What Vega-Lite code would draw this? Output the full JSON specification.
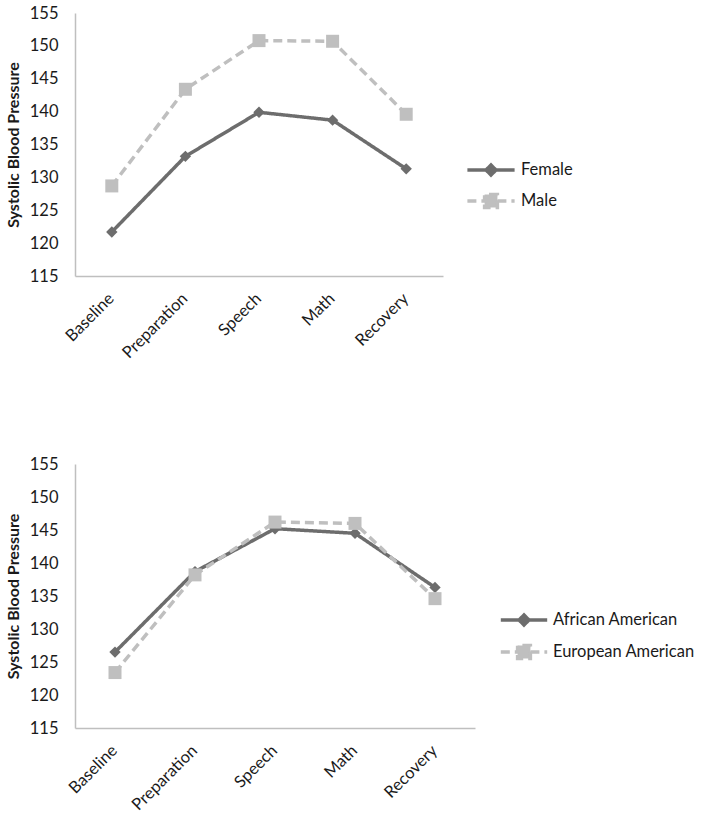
{
  "$schema": "https://vega.github.io/schema/vega-lite/v6.json",
  "background": "white",
  "padding": {"left": 5, "top": 5, "right": 5, "bottom": 5},
  "config": {
    "font": "Lato",
    "view": {"stroke": null},
    "concat": {"spacing": 94},
    "axis": {"labelFont": "Lato", "titleFont": "Lato", "labelColor": "#1a1a1a", "titleColor": "#1a1a1a", "domainColor": "#bfbfbf", "domainWidth": 1.5, "ticks": false, "grid": false},
    "legend": {"labelFont": "Lato", "labelFontSize": 16.5, "labelColor": "#1a1a1a", "padding": 0}
  },
  "resolve": {
    "scale": {"x": "independent", "color": "independent", "strokeDash": "independent"},
    "legend": {"color": "independent"}
  },
  "datasets": {
    "gender": [
      {"phase": "Baseline", "group": "Female", "sbp": 121.7},
      {"phase": "Preparation", "group": "Female", "sbp": 133.2},
      {"phase": "Speech", "group": "Female", "sbp": 139.9},
      {"phase": "Math", "group": "Female", "sbp": 138.7},
      {"phase": "Recovery", "group": "Female", "sbp": 131.3},
      {"phase": "Baseline", "group": "Male", "sbp": 128.7},
      {"phase": "Preparation", "group": "Male", "sbp": 143.4},
      {"phase": "Speech", "group": "Male", "sbp": 150.8},
      {"phase": "Math", "group": "Male", "sbp": 150.7},
      {"phase": "Recovery", "group": "Male", "sbp": 139.6}
    ],
    "race": [
      {"phase": "Baseline", "group": "African American", "sbp": 126.5},
      {"phase": "Preparation", "group": "African American", "sbp": 138.7},
      {"phase": "Speech", "group": "African American", "sbp": 145.2},
      {"phase": "Math", "group": "African American", "sbp": 144.5},
      {"phase": "Recovery", "group": "African American", "sbp": 136.3},
      {"phase": "Baseline", "group": "European American", "sbp": 123.4},
      {"phase": "Preparation", "group": "European American", "sbp": 138.2},
      {"phase": "Speech", "group": "European American", "sbp": 146.2},
      {"phase": "Math", "group": "European American", "sbp": 146.0},
      {"phase": "Recovery", "group": "European American", "sbp": 134.6}
    ]
  },
  "vconcat": [
    {
      "width": 368,
      "height": 263,
      "data": {"name": "gender"},
      "encoding": {
        "x": {"field": "phase", "type": "nominal", "sort": ["Baseline", "Preparation", "Speech", "Math", "Recovery"], "scale": {"type": "band", "paddingInner": 0, "paddingOuter": 0}, "axis": {"title": null, "labelAngle": -45, "labelFontSize": 16.5, "labelPadding": 14, "labelOffset": -6, "domain": true}},
        "y": {"field": "sbp", "type": "quantitative", "scale": {"domain": [115, 155], "nice": false, "zero": false}, "axis": {"title": "Systolic Blood Pressure", "titleFontSize": 16, "titleFontWeight": "bold", "titlePadding": 8, "labelFontSize": 16.5, "labelPadding": 17, "values": [115, 120, 125, 130, 135, 140, 145, 150, 155]}}
      },
      "layer": [
        {
          "mark": {"type": "line", "strokeWidth": 3.5, "strokeCap": "butt"},
          "encoding": {
            "color": {"field": "group", "type": "nominal", "scale": {"domain": ["Female", "Male"], "range": ["#6d6d6d", "#bfbfbf"]},
              "legend": {"title": null, "orient": "none", "legendX": 406, "legendY": 147, "symbolSize": 256, "symbolType": "circle", "rowPadding": 5, "labelOffset": 20,
                "encode": {"symbols": {"update": {
                  "shape": {"signal": "datum.value === 'Female' ? 'M-2.95,0L-0.62,0L0,-0.62L0.62,0L2.95,0M-0.62,0L0,0.62L0.62,0Z' : 'M-2.95,0L-0.8,0L-0.8,-0.8L0.8,-0.8L0.8,0.8L-0.8,0.8L-0.8,0M0.8,0L2.95,0'"},
                  "fill": {"signal": "datum.value === 'Female' ? '#6d6d6d' : '#bfbfbf'"},
                  "stroke": {"signal": "datum.value === 'Female' ? '#6d6d6d' : '#bfbfbf'"},
                  "strokeWidth": {"value": 3.5},
                  "opacity": {"value": 1},
                  "strokeDash": {"signal": "datum.value === 'Female' ? [] : [9,4]"}
                }}}}},
            "strokeDash": {"field": "group", "type": "nominal", "scale": {"domain": ["Female", "Male"], "range": [[1, 0], [9, 5]]}, "legend": null}
          }
        },
        {
          "transform": [{"filter": "datum.group === 'Female'"}],
          "mark": {"type": "point", "filled": true, "opacity": 1, "shape": "diamond", "size": 130, "color": "#6d6d6d"}
        },
        {
          "transform": [{"filter": "datum.group === 'Male'"}],
          "mark": {"type": "point", "filled": true, "opacity": 1, "shape": "square", "size": 169, "color": "#bfbfbf"}
        }
      ]
    },
    {
      "width": 400,
      "height": 264,
      "data": {"name": "race"},
      "encoding": {
        "x": {"field": "phase", "type": "nominal", "sort": ["Baseline", "Preparation", "Speech", "Math", "Recovery"], "scale": {"type": "band", "paddingInner": 0, "paddingOuter": 0}, "axis": {"title": null, "labelAngle": -45, "labelFontSize": 16.5, "labelPadding": 14, "labelOffset": -6, "domain": true}},
        "y": {"field": "sbp", "type": "quantitative", "scale": {"domain": [115, 155], "nice": false, "zero": false}, "axis": {"title": "Systolic Blood Pressure", "titleFontSize": 16, "titleFontWeight": "bold", "titlePadding": 8, "labelFontSize": 16.5, "labelPadding": 17, "values": [115, 120, 125, 130, 135, 140, 145, 150, 155]}}
      },
      "layer": [
        {
          "mark": {"type": "line", "strokeWidth": 3.5, "strokeCap": "butt"},
          "encoding": {
            "color": {"field": "group", "type": "nominal", "scale": {"domain": ["African American", "European American"], "range": ["#6d6d6d", "#bfbfbf"]},
              "legend": {"title": null, "orient": "none", "legendX": 439, "legendY": 146, "symbolSize": 256, "symbolType": "circle", "rowPadding": 6, "labelOffset": 19,
                "encode": {"symbols": {"update": {
                  "shape": {"signal": "datum.value === 'African American' ? 'M-2.9,0L-0.62,0L0,-0.62L0.62,0L2.9,0M-0.62,0L0,0.62L0.62,0Z' : 'M-2.9,0L-0.8,0L-0.8,-0.8L0.8,-0.8L0.8,0.8L-0.8,0.8L-0.8,0M0.8,0L2.9,0'"},
                  "fill": {"signal": "datum.value === 'African American' ? '#6d6d6d' : '#bfbfbf'"},
                  "stroke": {"signal": "datum.value === 'African American' ? '#6d6d6d' : '#bfbfbf'"},
                  "strokeWidth": {"value": 3.5},
                  "opacity": {"value": 1},
                  "strokeDash": {"signal": "datum.value === 'African American' ? [] : [9,4]"}
                }}}}},
            "strokeDash": {"field": "group", "type": "nominal", "scale": {"domain": ["African American", "European American"], "range": [[1, 0], [9, 5]]}, "legend": null}
          }
        },
        {
          "transform": [{"filter": "datum.group === 'African American'"}],
          "mark": {"type": "point", "filled": true, "opacity": 1, "shape": "diamond", "size": 130, "color": "#6d6d6d"}
        },
        {
          "transform": [{"filter": "datum.group === 'European American'"}],
          "mark": {"type": "point", "filled": true, "opacity": 1, "shape": "square", "size": 169, "color": "#bfbfbf"}
        }
      ]
    }
  ]
}
